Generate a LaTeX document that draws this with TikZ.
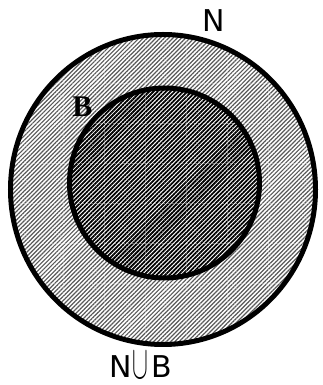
\documentclass[tikz,border=0pt]{standalone}
\usepackage{fontspec}
\usepackage{graphicx}
\setmainfont{DejaVu Sans}
\newfontfamily\serifbold{Liberation Serif}
\usetikzlibrary{patterns.meta}
\begin{document}
\begin{tikzpicture}[x=1pt,y=1pt,
  ring/.style={line width=5pt,draw=black},
  lbl/.style={font=\fontsize{30}{30}\selectfont, inner sep=0pt, anchor=base},
  gridline/.style={white,opacity=.3,line width=.7pt,dash pattern=on 3pt off 1.5pt}]
\useasboundingbox (0,0) rectangle (322,385);
\coordinate (O) at (163,195.5);
\coordinate (I) at (164.5,202);
% outer region
\fill[white] (O) ellipse [x radius=152.5,y radius=155];
\fill[pattern={Lines[angle=45,distance=3pt,line width=1.2pt]},pattern color=black!65]
  (O) ellipse [x radius=152.5,y radius=155];
% inner region
\fill[white] (I) circle [radius=95];
\fill[pattern={Lines[angle=45,distance=3pt,line width=1.8pt]},pattern color=black]
  (I) circle [radius=95];
% faint scan grid
\begin{scope}
  \clip (O) ellipse [x radius=152.5,y radius=155];
  \foreach \yy in {302,262,222,182,142,102}
    \draw[gridline] (0,\yy) -- (322,\yy);
  \foreach \xx in {63,104,145,186,227,268}
    \draw[gridline] (\xx,0) -- (\xx,385);
\end{scope}
% circles
\draw[ring] (O) ellipse [x radius=152.5,y radius=155];
\draw[ring] (I) circle [radius=95];
% labels
\node[lbl] (n) at (214,353) {N};
\node[lbl,anchor=base west] (nub) at (109,7) {N\kern1pt\raisebox{-1pt}{\scalebox{0.95}[1.9]{$\cup$}}\kern3pt B};
\node[font=\serifbold\bfseries\fontsize{30}{30}\selectfont, inner sep=0pt, anchor=base] (b) at (82.5,268) {B};
\end{tikzpicture}
\end{document}
